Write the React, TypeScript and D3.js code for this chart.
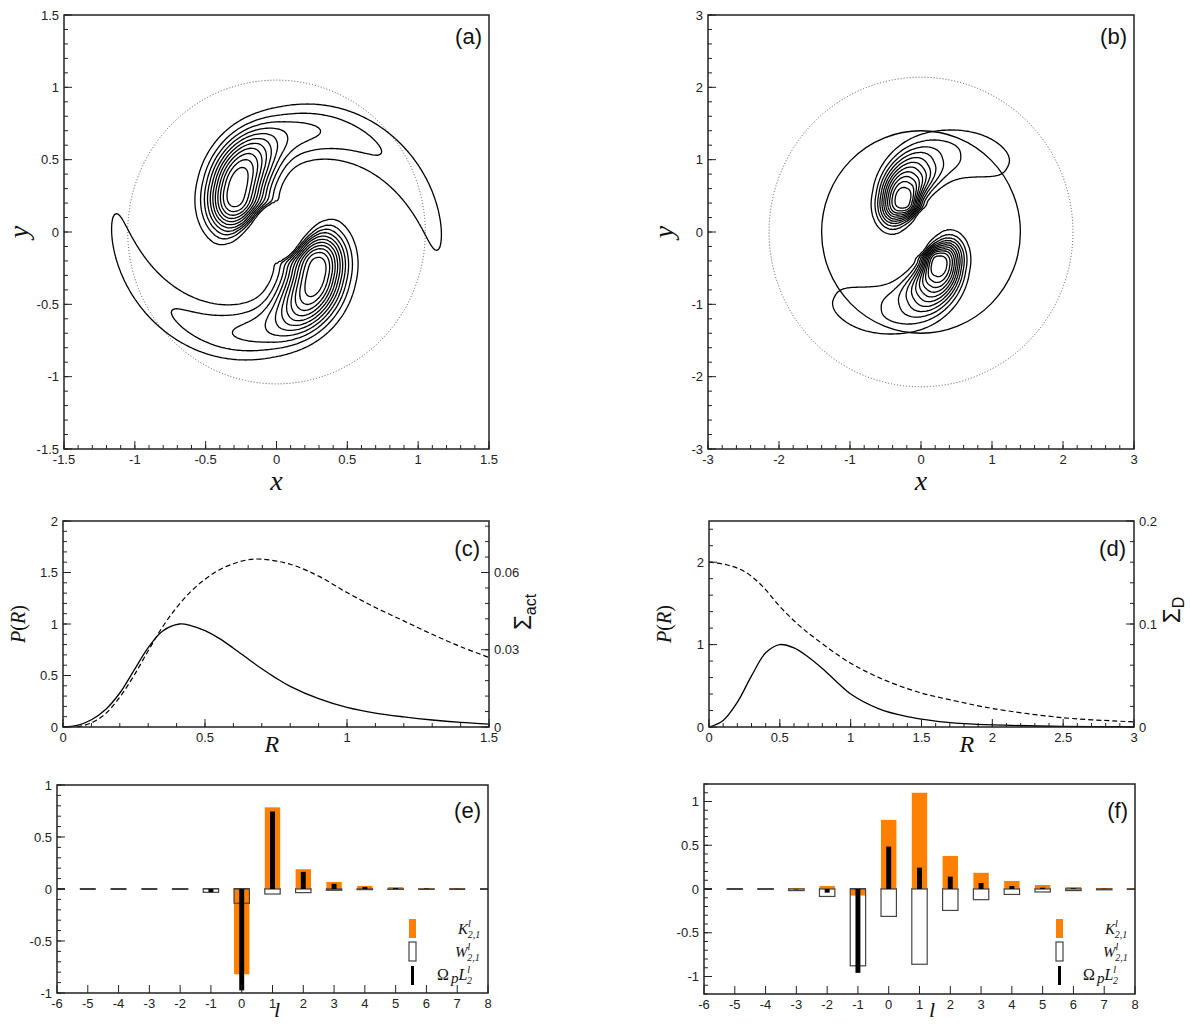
import React, { useMemo } from "react";
import * as d3 from "d3";

// ---------------- data ----------------
// contour levels of the normalised field (panels a, b)
const contourLevels = [0.083, 0.167, 0.25, 0.333, 0.417, 0.5, 0.583, 0.667, 0.75, 0.833, 0.917];
// ridge spiral of one arm: [blob angle (deg), r0, slope ahead, slope behind, psiMin, psiMax]
const spiralA = [132.95, 0.41, 0.3, 0.25, -0.95, 3.1];
// along-ridge profile: [sigma ahead, power ahead, sigma behind, power behind]
const blobAlongA = [0.45, 2.2, 0.27, 3.4];
// tail amplitude: [a0, e-fold length, ramp start, ramp end]
const armTailA = [0.49, 1.14, 0.0, 0.5];
// cross profile: [sigma outer, slope, sigma inner, slope, power, inner shrink behind]
const crossA = [0.188, -0.015, 0.2, -0.02, 2.2, 4.5];
const dottedRadiusA = 1.05;

const spiralB = [117.06, 0.52, 0.7, 0.6, -0.75, 2.2];
const blobAlongB = [0.61, 1.65, 0.3, 3.26];
const armTailB = [0.475, 1.0, 0.0, 0.5];
const crossB = [0.32, 0.08, 0.23, 0.12, 2.6, 2.5];
const dottedRadiusB = 2.14;
const solidRadiusB = 1.4;

// panel (c)
const rC = [0, 0.05, 0.1, 0.15, 0.2, 0.25, 0.3, 0.35, 0.41, 0.45, 0.5, 0.55, 0.6, 0.65, 0.7, 0.75, 0.8, 0.9, 1.0, 1.1, 1.2, 1.3, 1.4, 1.5];
const pC = [0, 0.015, 0.07, 0.17, 0.33, 0.55, 0.77, 0.93, 1.0, 0.985, 0.935, 0.86, 0.765, 0.665, 0.565, 0.475, 0.395, 0.275, 0.19, 0.135, 0.098, 0.068, 0.045, 0.028];
const rCd = [0.05, 0.1, 0.15, 0.2, 0.25, 0.3, 0.35, 0.4, 0.45, 0.5, 0.55, 0.6, 0.65, 0.7, 0.8, 0.9, 1.0, 1.1, 1.2, 1.3, 1.4, 1.5];
const sigmaAct = [0, 0.0016, 0.0052, 0.0116, 0.02, 0.0296, 0.0388, 0.0464, 0.0526, 0.0574, 0.061, 0.0634, 0.0649, 0.0652, 0.0632, 0.0586, 0.0522, 0.0464, 0.0412, 0.036, 0.0312, 0.027];
// panel (d)
const rD = [0, 0.1, 0.2, 0.3, 0.4, 0.5, 0.6, 0.7, 0.8, 0.9, 1.0, 1.2, 1.4, 1.6, 1.8, 2.0, 2.5, 3.0];
const pD = [0, 0.08, 0.3, 0.62, 0.9, 1.0, 0.96, 0.85, 0.71, 0.55, 0.4, 0.22, 0.125, 0.072, 0.042, 0.026, 0.008, 0.003];
const rDd = [0, 0.125, 0.25, 0.375, 0.5, 0.625, 0.75, 1.0, 1.25, 1.5, 1.75, 2.0, 2.5, 3.0];
const sigmaD = [0.16, 0.1575, 0.151, 0.137, 0.117, 0.1, 0.086, 0.062, 0.045, 0.033, 0.025, 0.018, 0.009, 0.005];

// panels (e), (f)
const ells = [-6, -5, -4, -3, -2, -1, 0, 1, 2, 3, 4, 5, 6, 7, 8];
const kE = [0, 0, 0, 0, 0, 0, -0.82, 0.785, 0.19, 0.068, 0.03, 0.018, 0.01, 0.003, 0.001];
const wE = [0, 0, 0, 0, -0.003, -0.032, -0.137, -0.048, -0.035, -0.012, -0.006, -0.003, -0.001, 0, 0];
const lE = [0, 0, 0, 0, -0.002, -0.03, -0.975, 0.745, 0.165, 0.05, 0.02, 0.01, 0.005, 0.002, 0];
const kF = [0, 0, 0.002, 0.012, 0.035, -0.075, 0.79, 1.1, 0.378, 0.185, 0.092, 0.046, 0.023, 0.012, 0.008];
const wF = [0, -0.001, -0.004, -0.018, -0.085, -0.878, -0.313, -0.86, -0.245, -0.122, -0.062, -0.034, -0.018, -0.009, -0.005];
const lF = [0, 0, 0, -0.005, -0.042, -0.958, 0.485, 0.244, 0.141, 0.069, 0.034, 0.015, 0.008, 0.003, 0.001];

// tick values
const ticksA = [-1.5, -1, -0.5, 0, 0.5, 1, 1.5];
const ticksB = [-3, -2, -1, 0, 1, 2, 3];
const ticksCx = [0, 0.5, 1, 1.5];
const ticksCy = [0, 0.5, 1, 1.5, 2];
const ticksCy2 = [0, 0.03, 0.06];
const ticksDx = [0, 0.5, 1, 1.5, 2, 2.5, 3];
const ticksDy = [0, 1, 2];
const ticksDy2 = [0, 0.1, 0.2];
const ticksEy = [-1, -0.5, 0, 0.5, 1];

// ---------------- layout ----------------
const PA = { x0: 64, x1: 489, y0: 15, y1: 449 };
const PB = { x0: 708, x1: 1134, y0: 15, y1: 449 };
const PC = { x0: 63, x1: 489, y0: 521, y1: 727 };
const PD = { x0: 709, x1: 1134, y0: 521, y1: 727 };
const PE = { x0: 57, x1: 488, y0: 785, y1: 993 };
const PF = { x0: 704, x1: 1135, y0: 784, y1: 994 };

const SANS = "'Liberation Sans', Arial, Helvetica, sans-serif";
const SERIF = "'Liberation Serif', 'Times New Roman', serif";
const ORANGE = "#FF8000";

// ---------------- contour field ----------------
function smoothstep(a: number, b: number, x: number) {
  const t = Math.max(0, Math.min(1, (x - a) / (b - a)));
  return t * t * (3 - 2 * t);
}

function buildRidge(spiral: number[]) {
  const [thDeg, r0, k, kb, pmin, pmax] = spiral;
  const th0 = (thDeg * Math.PI) / 180;
  const step = 0.02;
  const pts: { x: number; y: number; s: number }[] = [];
  const n = Math.round((pmax - pmin) / step);
  for (let i = 0; i <= n; i++) {
    const psi = pmin + i * step;
    const r = Math.max(0.02, r0 + (psi >= 0 ? k : kb) * psi);
    const th = th0 - psi;
    pts.push({ x: r * Math.cos(th), y: r * Math.sin(th), s: 0 });
  }
  const i0 = Math.round(-pmin / step);
  for (let i = i0 + 1; i < pts.length; i++)
    pts[i].s = pts[i - 1].s + Math.hypot(pts[i].x - pts[i - 1].x, pts[i].y - pts[i - 1].y);
  for (let i = i0 - 1; i >= 0; i--)
    pts[i].s = pts[i + 1].s - Math.hypot(pts[i].x - pts[i + 1].x, pts[i].y - pts[i + 1].y);
  return pts;
}

function armValue(px: number, py: number, ridge: any[], along: number[], tail: number[], cross: number[]) {
  let best = Infinity, bs = 0, bside = 1;
  for (let i = 0; i < ridge.length - 1; i++) {
    const a = ridge[i], b = ridge[i + 1];
    const dx = b.x - a.x, dy = b.y - a.y;
    const L2 = dx * dx + dy * dy;
    let t = ((px - a.x) * dx + (py - a.y) * dy) / L2;
    t = t < 0 ? 0 : t > 1 ? 1 : t;
    const qx = a.x + t * dx, qy = a.y + t * dy;
    const d2 = (px - qx) * (px - qx) + (py - qy) * (py - qy);
    if (d2 < best) {
      best = d2;
      bs = a.s + t * (b.s - a.s);
      bside = dx * (py - qy) - dy * (px - qx) >= 0 ? 1 : -1;
    }
  }
  const nd = Math.sqrt(best);
  const sMin = ridge[0].s, sMax = ridge[ridge.length - 1].s;
  const [sigF, pF, sigB, pB] = along;
  const [a0, e, rs, re] = tail;
  const [so, sos, si, sis, pv, shrink] = cross;
  let A: number;
  if (bs >= 0) {
    const blob = Math.exp(-Math.pow(bs / sigF, pF));
    const arm = a0 * Math.exp(-bs / e) * smoothstep(rs, re, bs);
    A = Math.pow(Math.pow(blob, 4) + Math.pow(arm, 4), 0.25) * (1 - smoothstep(sMax - 0.15, sMax, bs));
  } else {
    A = Math.exp(-Math.pow(-bs / sigB, pB)) * smoothstep(sMin, sMin + 0.12, bs);
  }
  const sp = Math.max(0, bs);
  let sig = bside > 0 ? so + sos * sp : si + sis * sp;
  if (bs < 0 && bside < 0) sig *= Math.max(0.55, 1 - shrink * bs * bs);
  return A * Math.exp(-Math.pow(nd / sig, pv));
}

function makeContourPaths(xs: any, ys: any, half: number, n: number, spiral: number[], along: number[], tail: number[], cross: number[], levels: number[]) {
  const step = (2 * half) / n;
  const ridge = buildRidge(spiral);
  const one = new Float64Array(n * n);
  for (let j = 0; j < n; j++)
    for (let i = 0; i < n; i++) {
      const x = -half + (i + 0.5) * step, y = half - (j + 0.5) * step;
      one[j * n + i] = armValue(x, y, ridge, along, tail, cross);
    }
  const vals = new Array(n * n);
  for (let j = 0; j < n; j++)
    for (let i = 0; i < n; i++) vals[j * n + i] = one[j * n + i] + one[(n - 1 - j) * n + (n - 1 - i)];
  const polys = d3.contours().size([n, n]).thresholds(levels)(vals);
  const proj = d3.geoTransform({
    point(this: any, gx: number, gy: number) {
      this.stream.point(xs(-half + gx * step), ys(half - gy * step));
    },
  });
  const gen = d3.geoPath(proj as any);
  return polys.map((p: any) => gen(p) || "");
}

// ---------------- axes ----------------
function minorRange(a: number, b: number, step: number) {
  const out: number[] = [];
  const n = Math.floor((b - a) / step + 1e-6);
  for (let i = 0; i <= n; i++) out.push(a + i * step);
  return out;
}

function Axes(props: any) {
  const { p, xs, ys, xMaj, xMinStep, yMaj, yMinStep, ys2, y2Maj, y2MinStep } = props;
  const els: any[] = [];
  const xd = xs.domain(), yd = ys.domain();
  if (xMinStep)
    minorRange(xd[0], xd[1], xMinStep).forEach((v, i) =>
      els.push(<line key={"xm" + i} x1={xs(v)} x2={xs(v)} y1={p.y1} y2={p.y1 - 4} />)
    );
  xMaj.forEach((v: number, i: number) => {
    els.push(<line key={"xM" + i} x1={xs(v)} x2={xs(v)} y1={p.y1} y2={p.y1 - 8} />);
    els.push(
      <text key={"xl" + i} x={xs(v)} y={p.y1 + 15} textAnchor="middle" stroke="none" fill="#222" fontSize={13} fontFamily={SANS}>
        {String(v)}
      </text>
    );
  });
  if (yMinStep)
    minorRange(yd[0], yd[1], yMinStep).forEach((v, i) =>
      els.push(<line key={"ym" + i} x1={p.x0} x2={p.x0 + 4} y1={ys(v)} y2={ys(v)} />)
    );
  yMaj.forEach((v: number, i: number) => {
    els.push(<line key={"yM" + i} x1={p.x0} x2={p.x0 + 8} y1={ys(v)} y2={ys(v)} />);
    els.push(
      <text key={"yl" + i} x={p.x0 - 5} y={ys(v)} dy="0.35em" textAnchor="end" stroke="none" fill="#222" fontSize={13} fontFamily={SANS}>
        {String(v)}
      </text>
    );
  });
  if (ys2) {
    const d2 = ys2.domain();
    minorRange(d2[0], d2[1], y2MinStep).forEach((v, i) =>
      els.push(<line key={"y2m" + i} x1={p.x1} x2={p.x1 - 4} y1={ys2(v)} y2={ys2(v)} />)
    );
    y2Maj.forEach((v: number, i: number) => {
      els.push(<line key={"y2M" + i} x1={p.x1} x2={p.x1 - 8} y1={ys2(v)} y2={ys2(v)} />);
      els.push(
        <text key={"y2l" + i} x={p.x1 + 5} y={ys2(v)} dy="0.35em" textAnchor="start" stroke="none" fill="#222" fontSize={13} fontFamily={SANS}>
          {String(v)}
        </text>
      );
    });
  }
  return (
    <g stroke="#222" strokeWidth={1}>
      {els}
      <rect x={p.x0} y={p.y0} width={p.x1 - p.x0} height={p.y1 - p.y0} fill="none" stroke="#222" strokeWidth={1.5} />
    </g>
  );
}

function PanelLabel({ x, y, text }: any) {
  return (
    <text x={x} y={y} textAnchor="end" fontSize={22} fontFamily={SANS} fill="#111">
      {text}
    </text>
  );
}

function Legend({ x, tx }: any) {
  return (
    <g>
      <rect x={x} y={919} width={7} height={19} fill={ORANGE} />
      <rect x={x} y={942} width={7} height={19} fill="#fff" stroke="#444" strokeWidth={1.2} />
      <rect x={x + 2} y={966} width={3} height={19} fill="#000" />
      <text x={tx[0]} y={934} fontFamily={SERIF} fontStyle="italic" fontSize={15} fill="#111">
        K<tspan fontSize={10} dy={-7}>l</tspan>
        <tspan fontSize={10} dx={-3} dy={11}>2,1</tspan>
      </text>
      <text x={tx[1]} y={957} fontFamily={SERIF} fontStyle="italic" fontSize={15} fill="#111">
        W<tspan fontSize={10} dy={-7}>l</tspan>
        <tspan fontSize={10} dx={-3} dy={11}>2,1</tspan>
      </text>
      <text x={tx[2]} y={980} fontFamily={SERIF} fontSize={16} fill="#111">
        Ω<tspan fontStyle="italic" fontSize={15} dx={2} dy={3}>p</tspan>
        <tspan fontStyle="italic" fontSize={16} dy={-3}>L</tspan>
        <tspan fontStyle="italic" fontSize={10} dy={-7}>l</tspan>
        <tspan fontStyle="italic" fontSize={10} dx={-3} dy={11}>2</tspan>
      </text>
    </g>
  );
}

function BarPanel({ p, yDom, K, Wv, L, id, legendX, legendTx, label, lx }: any) {
  const xs = d3.scaleLinear().domain([-6, 8]).range([p.x0, p.x1]);
  const ys = d3.scaleLinear().domain(yDom).range([p.y1, p.y0]);
  const u = xs(1) - xs(0);
  const bw = 0.5 * u;
  const lw = 0.16 * u;
  const rectFor = (l: number, v: number, w: number) => {
    const y0 = ys(0), y1 = ys(v);
    return { x: xs(l) - w / 2, y: Math.min(y0, y1), width: w, height: Math.abs(y1 - y0) };
  };
  return (
    <g>
      <defs>
        <clipPath id={id}>
          <rect x={p.x0} y={p.y0} width={p.x1 - p.x0} height={p.y1 - p.y0} />
        </clipPath>
      </defs>
      <g clipPath={`url(#${id})`}>
        <line x1={p.x0} x2={p.x1} y1={ys(0)} y2={ys(0)} stroke="#000" strokeWidth={1.3}
          strokeDasharray={`${0.52 * u} ${0.48 * u}`} strokeDashoffset={0.26 * u} />
        {ells.map((l: number, i: number) =>
          Math.abs(Wv[i]) > 1e-4 ? <rect key={"wf" + i} {...rectFor(l, Wv[i], bw)} fill="#fff" /> : null
        )}
        {ells.map((l: number, i: number) =>
          Math.abs(K[i]) > 1e-4 ? <rect key={"k" + i} {...rectFor(l, K[i], bw)} fill={ORANGE} /> : null
        )}
        {ells.map((l: number, i: number) =>
          Math.abs(Wv[i]) > 1e-4 ? <rect key={"ws" + i} {...rectFor(l, Wv[i], bw)} fill="none" stroke="#444" strokeWidth={1.2} /> : null
        )}
        {ells.map((l: number, i: number) =>
          Math.abs(L[i]) > 1e-4 ? <rect key={"l" + i} {...rectFor(l, L[i], lw)} fill="#000" /> : null
        )}
      </g>
      <Axes p={p} xs={xs} ys={ys} xMaj={ells} xMinStep={0} yMaj={ticksEy} yMinStep={0.1} />
      <Legend x={legendX} tx={legendTx} />
      <PanelLabel x={label[0]} y={label[1]} text={label[2]} />
      <text x={lx} y={1017} textAnchor="middle" fontFamily={SERIF} fontStyle="italic" fontSize={22} fill="#111">l</text>
    </g>
  );
}

export default function App() {
  const xsA = d3.scaleLinear().domain([-1.5, 1.5]).range([PA.x0, PA.x1]);
  const ysA = d3.scaleLinear().domain([-1.5, 1.5]).range([PA.y1, PA.y0]);
  const xsB = d3.scaleLinear().domain([-3, 3]).range([PB.x0, PB.x1]);
  const ysB = d3.scaleLinear().domain([-3, 3]).range([PB.y1, PB.y0]);
  const xsC = d3.scaleLinear().domain([0, 1.5]).range([PC.x0, PC.x1]);
  const ysC = d3.scaleLinear().domain([0, 2]).range([PC.y1, PC.y0]);
  const ysC2 = d3.scaleLinear().domain([0, 0.08]).range([PC.y1, PC.y0]);
  const xsD = d3.scaleLinear().domain([0, 3]).range([PD.x0, PD.x1]);
  const ysD = d3.scaleLinear().domain([0, 2.5]).range([PD.y1, PD.y0]);
  const ysD2 = d3.scaleLinear().domain([0, 0.2]).range([PD.y1, PD.y0]);

  const pathsA = useMemo(
    () => makeContourPaths(xsA, ysA, 1.5, 240, spiralA, blobAlongA, armTailA, crossA, contourLevels),
    []
  );
  const pathsB = useMemo(
    () => makeContourPaths(xsB, ysB, 3, 280, spiralB, blobAlongB, armTailB, crossB, contourLevels),
    []
  );

  const smooth = d3.curveCatmullRom.alpha(0.5);
  const lineC = d3.line<number>().x((_, i) => xsC(rC[i])).y((d) => ysC(d)).curve(smooth);
  const lineCd = d3.line<number>().x((_, i) => xsC(rCd[i])).y((d) => ysC2(d)).curve(smooth);
  const lineD = d3.line<number>().x((_, i) => xsD(rD[i])).y((d) => ysD(d)).curve(smooth);
  const lineDd = d3.line<number>().x((_, i) => xsD(rDd[i])).y((d) => ysD2(d)).curve(smooth);

  return (
    <svg width={1190} height={1024} style={{ position: "absolute", left: 0, top: 0, background: "#fff" }}>
      <rect x={0} y={0} width={1190} height={1024} fill="#fff" />

      {/* ---- (a) ---- */}
      <g>
        <ellipse cx={xsA(0)} cy={ysA(0)} rx={xsA(dottedRadiusA) - xsA(0)} ry={ysA(0) - ysA(dottedRadiusA)}
          fill="none" stroke="#555" strokeWidth={1} strokeDasharray="1 2" />
        {pathsA.map((d, i) => (
          <path key={i} d={d} fill="none" stroke="#000" strokeWidth={1.3} />
        ))}
        <Axes p={PA} xs={xsA} ys={ysA} xMaj={ticksA} xMinStep={0.1} yMaj={ticksA} yMinStep={0.1} />
        <PanelLabel x={482} y={44} text="(a)" />
        <text x={xsA(0)} y={490} textAnchor="middle" fontFamily={SERIF} fontStyle="italic" fontSize={28} fill="#111">x</text>
        <text transform={`translate(28,${ysA(0)}) rotate(-90)`} textAnchor="middle" fontFamily={SERIF} fontStyle="italic" fontSize={28} fill="#111">y</text>
      </g>

      {/* ---- (b) ---- */}
      <g>
        <ellipse cx={xsB(0)} cy={ysB(0)} rx={xsB(dottedRadiusB) - xsB(0)} ry={ysB(0) - ysB(dottedRadiusB)}
          fill="none" stroke="#555" strokeWidth={1} strokeDasharray="1 2" />
        <ellipse cx={xsB(0)} cy={ysB(0)} rx={xsB(solidRadiusB) - xsB(0)} ry={ysB(0) - ysB(solidRadiusB)}
          fill="none" stroke="#000" strokeWidth={1.3} />
        {pathsB.map((d, i) => (
          <path key={i} d={d} fill="none" stroke="#000" strokeWidth={1.3} />
        ))}
        <Axes p={PB} xs={xsB} ys={ysB} xMaj={ticksB} xMinStep={0.2} yMaj={ticksB} yMinStep={0.2} />
        <PanelLabel x={1127} y={44} text="(b)" />
        <text x={xsB(0)} y={490} textAnchor="middle" fontFamily={SERIF} fontStyle="italic" fontSize={28} fill="#111">x</text>
        <text transform={`translate(673,${ysB(0)}) rotate(-90)`} textAnchor="middle" fontFamily={SERIF} fontStyle="italic" fontSize={28} fill="#111">y</text>
      </g>

      {/* ---- (c) ---- */}
      <g>
        <path d={lineC(pC) || ""} fill="none" stroke="#000" strokeWidth={1.3} />
        <path d={lineCd(sigmaAct) || ""} fill="none" stroke="#000" strokeWidth={1.2} strokeDasharray="5 3" />
        <Axes p={PC} xs={xsC} ys={ysC} xMaj={ticksCx} xMinStep={0.1} yMaj={ticksCy} yMinStep={0.1}
          ys2={ysC2} y2Maj={ticksCy2} y2MinStep={0.006} />
        <PanelLabel x={480} y={556} text="(c)" />
        <text x={xsC(0.735)} y={752} textAnchor="middle" fontFamily={SERIF} fontStyle="italic" fontSize={24} fill="#111">R</text>
        <text transform={`translate(25,624) rotate(-90)`} textAnchor="middle" fontFamily={SERIF} fontSize={20} fill="#111">
          <tspan fontStyle="italic">P</tspan>(<tspan fontStyle="italic">R</tspan>)
        </text>
        <text transform={`translate(531,612) rotate(-90)`} textAnchor="middle" fontFamily={SANS} fontSize={24} fill="#111">
          Σ<tspan fontSize={16} dy={5}>act</tspan>
        </text>
      </g>

      {/* ---- (d) ---- */}
      <g>
        <path d={lineD(pD) || ""} fill="none" stroke="#000" strokeWidth={1.3} />
        <path d={lineDd(sigmaD) || ""} fill="none" stroke="#000" strokeWidth={1.2} strokeDasharray="5 3" />
        <Axes p={PD} xs={xsD} ys={ysD} xMaj={ticksDx} xMinStep={0.1} yMaj={ticksDy} yMinStep={0.2}
          ys2={ysD2} y2Maj={ticksDy2} y2MinStep={0.02} />
        <PanelLabel x={1126} y={556} text="(d)" />
        <text x={xsD(1.82)} y={752} textAnchor="middle" fontFamily={SERIF} fontStyle="italic" fontSize={24} fill="#111">R</text>
        <text transform={`translate(671,624) rotate(-90)`} textAnchor="middle" fontFamily={SERIF} fontSize={20} fill="#111">
          <tspan fontStyle="italic">P</tspan>(<tspan fontStyle="italic">R</tspan>)
        </text>
        <text transform={`translate(1180,610) rotate(-90)`} textAnchor="middle" fontFamily={SANS} fontSize={24} fill="#111">
          Σ<tspan fontSize={16} dy={4}>D</tspan>
        </text>
      </g>

      {/* ---- (e) ---- */}
      <BarPanel p={PE} yDom={[-1, 1]} K={kE} Wv={wE} L={lE} id="clipE" legendX={409} legendTx={[458, 455, 437]}
        label={[481, 818, "(e)"]} lx={277} />
      {/* ---- (f) ---- */}
      <BarPanel p={PF} yDom={[-1.2, 1.2]} K={kF} Wv={wF} L={lF} id="clipF" legendX={1056} legendTx={[1105, 1103, 1083]}
        label={[1128, 818, "(f)"]} lx={932} />
    </svg>
  );
}
